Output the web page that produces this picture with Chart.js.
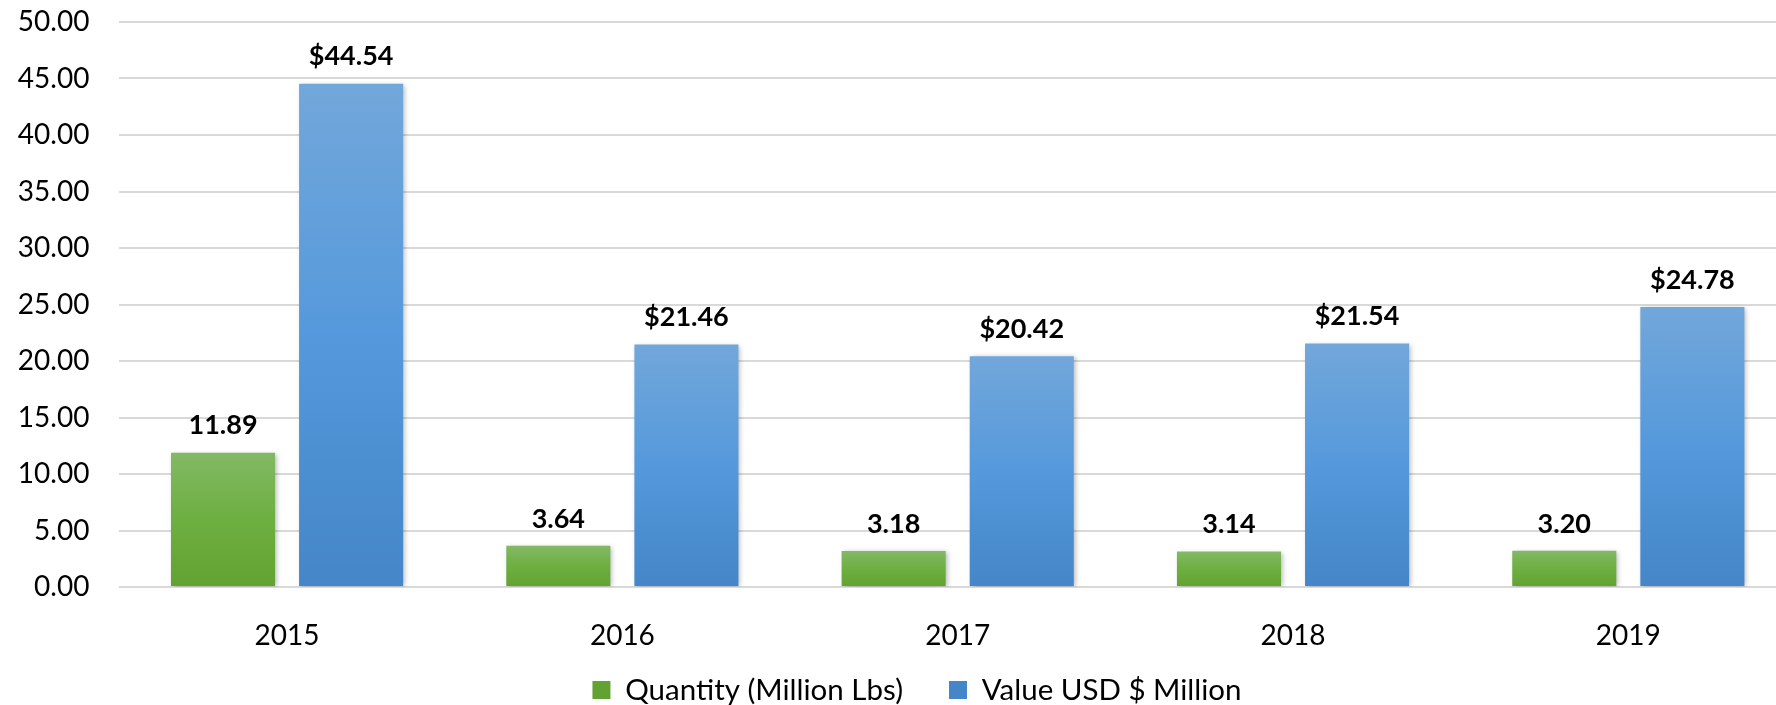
<!DOCTYPE html>
<html>
<head>
<meta charset="utf-8">
<script src="https://cdn.jsdelivr.net/npm/chart.js@4/dist/chart.umd.min.js"></script>
<style>
  html, body { margin: 0; padding: 0; background: #fff; overflow: hidden; }
  #wrap { width: 1776px; height: 705px; overflow: hidden; }
</style>
</head>
<body>
<div id="wrap"><canvas id="Chart" width="1800" height="705"></canvas></div>
<script>
// values
var years = ['2015', '2016', '2017', '2018', '2019'];
var quantity = [11.89, 3.64, 3.18, 3.14, 3.20];
var value = [44.54, 21.46, 20.42, 21.54, 24.78];
var yTicks = [0, 5, 10, 15, 20, 25, 30, 35, 40, 45, 50];

var FONT = 'Lato, "Liberation Sans", sans-serif';
var LEGEND_SIZE = 29.5;
var LEGEND_PAD = 46;

// each bar gets its own top-to-bottom gradient, like the excel fill
function barFill(top, mid, bottom) {
    return function(ctx) {
        var chart = ctx.chart;
        if (ctx.type !== 'data' || !chart.chartArea || !chart.scales.y) return mid;
        var y = chart.scales.y;
        var y0 = y.getPixelForValue(0);
        var y1 = y.getPixelForValue(ctx.parsed.y);
        if (!isFinite(y0) || !isFinite(y1) || y0 === y1) return mid;
        var g = chart.ctx.createLinearGradient(0, y1, 0, y0);
        g.addColorStop(0, top);
        g.addColorStop(0.5, mid);
        g.addColorStop(1, bottom);
        return g;
    };
}

var Data = {
    labels: years,
    datasets: [{
        label: 'Quantity (Million Lbs)',
        data: quantity,
        backgroundColor: barFill('#83b965', '#6daf40', '#62a232'),
        prefix: ''
    }, {
        label: 'Value USD $ Million',
        data: value,
        backgroundColor: barFill('#72a7da', '#5599dc', '#4486c7'),
        prefix: '$'
    }]
};

var barExtras = {
    id: 'barExtras',
    afterLayout: function(chart) {
        // legend sits a little off-centre in the original
        var lg = chart.legend;
        var dx = 917 - (lg.left + lg.right) / 2;
        lg.left += dx;
        lg.right += dx;
        var h = lg.bottom - lg.top;
        lg.top = 690 - LEGEND_SIZE / 2 - LEGEND_PAD;
        lg.bottom = lg.top + h;
    },
    beforeDatasetsDraw: function(chart) {
        var c = chart.ctx;
        c.save();
        c.shadowColor = 'rgba(0,0,0,0.28)';
        c.shadowBlur = 5;
        c.shadowOffsetX = 2;
        c.shadowOffsetY = 1;
    },
    afterDatasetsDraw: function(chart) {
        var c = chart.ctx;
        c.restore();
        c.save();
        c.font = 'bold 27px ' + FONT;
        c.fillStyle = '#000';
        c.textAlign = 'center';
        c.textBaseline = 'middle';
        chart.data.datasets.forEach(function(ds, i) {
            chart.getDatasetMeta(i).data.forEach(function(bar, j) {
                c.fillText(ds.prefix + ds.data[j].toFixed(2), bar.x, bar.y - 27);
            });
        });
        c.restore();
    }
};

var myChart = new Chart(document.getElementById('Chart').getContext('2d'), {
    type: 'bar',
    data: Data,
    options: {
        responsive: false,
        animation: false,
        events: [],
        categoryPercentage: 0.764,
        barPercentage: 0.8125,
        layout: { padding: { top: 22, right: 4, left: 0, bottom: -27.5 } },
        plugins: {
            tooltip: { enabled: false },
            legend: {
                position: 'bottom',
                labels: {
                    color: '#000',
                    font: { family: FONT, size: LEGEND_SIZE },
                    boxWidth: 18,
                    boxHeight: 18,
                    padding: LEGEND_PAD
                }
            }
        },
        scales: {
            x: {
                grid: { display: false },
                border: { display: false },
                ticks: { color: '#000', padding: 24, font: { family: FONT, size: 28 } },
                afterFit: function(scale) { scale.height = 60; }
            },
            y: {
                min: 0,
                max: 50,
                afterBuildTicks: function(scale) {
                    scale.ticks = yTicks.map(function(v) { return { value: v }; });
                },
                grid: { color: '#d9d9d9', lineWidth: 2, drawTicks: false },
                border: { display: false },
                ticks: {
                    color: '#000',
                    padding: 30,
                    font: { family: FONT, size: 28 },
                    callback: function(v) { return Number(v).toFixed(2); }
                },
                afterFit: function(scale) {
                    scale.width = 119.4;
                    scale.paddingTop = 0;
                    scale.paddingBottom = 0;
                }
            }
        }
    },
    plugins: [barExtras]
});
</script>
</body>
</html>
